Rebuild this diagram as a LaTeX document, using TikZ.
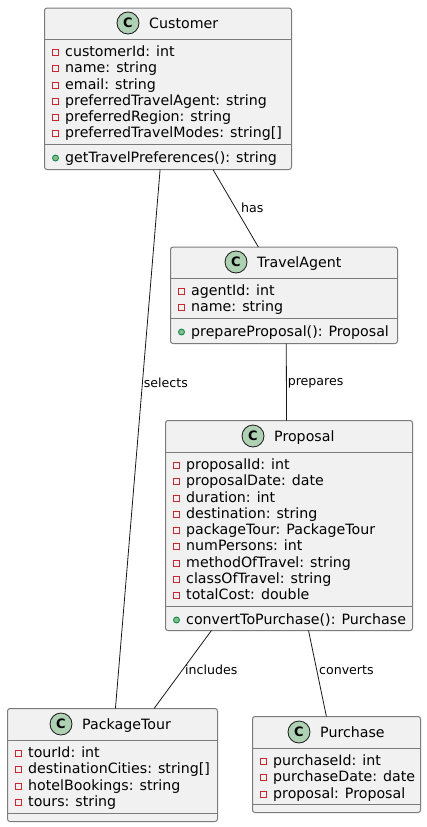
\documentclass[tikz,border=0pt]{standalone}
\usepackage{fontspec}
\setmainfont{DejaVu Sans}
\usetikzlibrary{calc,fit}
\definecolor{boxfill}{HTML}{F1F1F1}
\definecolor{boxline}{HTML}{7B7B7B}
\definecolor{circfill}{HTML}{ADD1B2}
\definecolor{privred}{HTML}{C82930}
\definecolor{pubfill}{HTML}{84BE84}
\definecolor{publine}{HTML}{038048}
\definecolor{linkline}{HTML}{181818}
\tikzset{
  classbox/.style={draw=boxline,fill=boxfill,line width=1pt,rounded corners=2.5pt,inner sep=0pt,outer sep=0pt},
  classsep/.style={draw=boxline,line width=1pt},
  classcirc/.style={circle,draw=linkline,fill=circfill,line width=.8pt,minimum size=22pt,inner sep=0pt,font=\fontsize{13}{13}\selectfont\bfseries},
  classname/.style={anchor=base west,inner sep=0pt,font=\fontsize{14.2}{16}\selectfont},
  member/.style={anchor=base west,inner sep=0pt,font=\fontsize{14.2}{16}\selectfont},
  privmark/.style={rectangle,draw=privred,line width=.8pt,minimum size=6pt,inner sep=0pt},
  pubmark/.style={circle,draw=publine,fill=pubfill,line width=.8pt,minimum size=6pt,inner sep=0pt},
  link/.style={draw=linkline,line width=.8pt},
  linktext/.style={right,inner sep=1pt,font=\fontsize{12.6}{15}\selectfont}
}
\begin{document}
\begin{tikzpicture}[x=1pt,y=-1pt]
\useasboundingbox (0,0) rectangle (426,827);
\foreach \cname/\xa/\xb/\ya/\yb/\sa/\sb/\cx/\cy/\ctext in {
  customer/44.5/291.5/8/169.5/39.5/144.5/128/23/Customer,
  agent/170.5/397.5/247/343.5/278.5/318.5/236/262/TravelAgent,
  proposal/165.5/412.5/420.5/630.5/452.5/606.5/253/436/Proposal,
  tour/7.5/217.5/708.5/821.5/740.5/813.5/61/724/PackageTour,
  purchase/252.5/420.5/716.5/812.5/748.5/804.5/299/732/Purchase}
{
    \node[classbox,fit={(\xa,\ya) (\xb,\yb)}] (\cname) {};
    \draw[classsep] (\xa,\sa)--(\xb,\sa);
    \draw[classsep] (\xa,\sb)--(\xb,\sb);
    \node[classcirc] (\cname circ) at (\cx,\cy) {C};
    \node[classname] (\cname title) at (\cx+21,\cy+5) {\ctext};
}
\foreach \y/\ytext in {56/customerId: int,72/name: string,89/email: string,105/preferredTravelAgent: string,121/preferredRegion: string,137/preferredTravelModes: string[]}
{
    \node[privmark] (customermark\y) at (55.5,\y-4) {};
    \node[member] (customertext\y) at (65,\y) {\ytext};
}
\foreach \y/\ytext in {295/agentId: int,311/name: string}
{
    \node[privmark] (agentmark\y) at (181.5,\y-4) {};
    \node[member] (agenttext\y) at (191,\y) {\ytext};
}
\foreach \y/\ytext in {469/proposalId: int,485/proposalDate: date,502/duration: int,518/destination: string,534/packageTour: PackageTour,550/numPersons: int,567/methodOfTravel: string,583/classOfTravel: string,599/totalCost: double}
{
    \node[privmark] (proposalmark\y) at (176.5,\y-4) {};
    \node[member] (proposaltext\y) at (186,\y) {\ytext};
}
\foreach \y/\ytext in {757/tourId: int,773/destinationCities: string[],790/hotelBookings: string,806/tours: string}
{
    \node[privmark] (tourmark\y) at (18.5,\y-4) {};
    \node[member] (tourtext\y) at (28,\y) {\ytext};
}
\foreach \y/\ytext in {765/purchaseId: int,781/purchaseDate: date,798/proposal: Proposal}
{
    \node[privmark] (purchasemark\y) at (263.5,\y-4) {};
    \node[member] (purchasetext\y) at (273,\y) {\ytext};
}
\foreach \cname/\x/\y/\ytext in {customer/65/162/getTravelPreferences(): string,agent/191/336/prepareProposal(): Proposal,proposal/186/624/convertToPurchase(): Purchase}
{
    \node[pubmark] (\cname pubmark) at (\x-9.5,\y-4) {};
    \node[member] (\cname pubtext) at (\x,\y) {\ytext};
}
\draw[link] ($(customer.south west)!.468!(customer.south east)$)--node[linktext,pos=.395]{selects}($(tour.north west)!.514!(tour.north east)$);
\draw[link] ($(customer.south west)!.682!(customer.south east)$)--node[linktext,midway,xshift=4pt]{has}($(agent.north west)!.387!(agent.north east)$);
\draw[link] ($(agent.south west)!.51!(agent.south east)$)--node[linktext,pos=.52]{prepares}($(proposal.north west)!.49!(proposal.north east)$);
\draw[link] ($(proposal.south west)!.186!(proposal.south east)$)--node[linktext,midway,xshift=1pt]{includes}($(tour.north west)!.698!(tour.north east)$);
\draw[link] ($(proposal.south west)!.579!(proposal.south east)$)--node[linktext,pos=.46,xshift=1pt]{converts}($(purchase.north west)!.44!(purchase.north east)$);
\end{tikzpicture}
\end{document}
